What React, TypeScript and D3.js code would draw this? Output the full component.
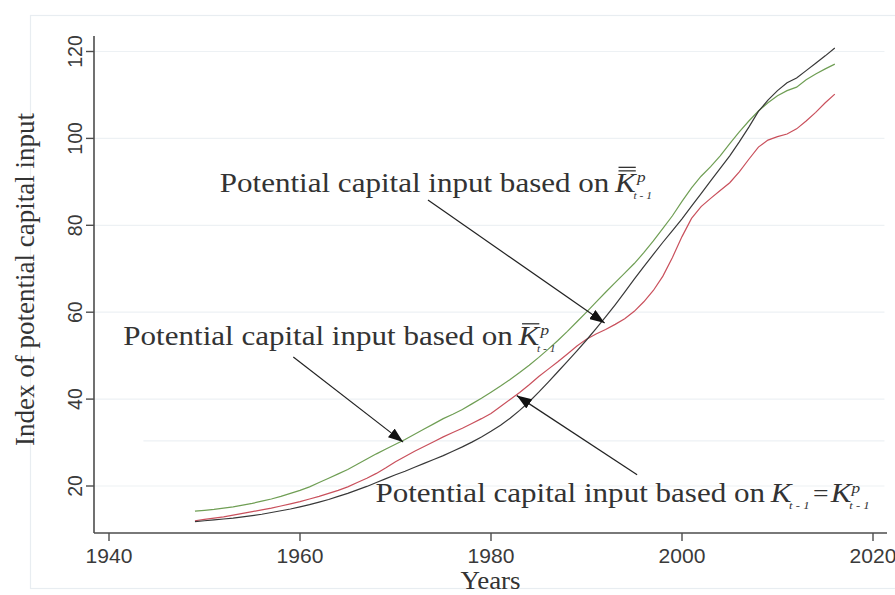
import React, { useRef, useEffect } from 'react';
import * as d3 from 'd3';

// Years covered by the three series
const YEARS = d3.range(1949, 2017);

// Potential capital input based on K_{t-1} = K^p_{t-1} (black)
const SERIES_BLACK = [
  11.8, 12.0, 12.2, 12.4, 12.6, 12.9, 13.2, 13.5, 13.9, 14.3, 14.7,
  15.2, 15.7, 16.3, 16.9, 17.6, 18.3, 19.1, 19.9, 20.8, 21.7,
  22.6, 23.4, 24.3, 25.2, 26.1, 27.0, 28.0, 29.0, 30.1, 31.3,
  32.6, 34.0, 35.6, 37.4, 39.4, 41.6, 43.9, 46.3, 48.7, 51.1,
  53.6, 56.2, 58.9, 61.7, 64.6, 67.6, 70.5, 73.3, 76.1, 78.8,
  81.5, 84.4, 87.3, 90.2, 93.1, 96.0, 99.2, 102.6, 106.2, 108.8,
  111.0, 112.8, 113.9, 115.6, 117.3, 119.0, 120.8
];

// Red series
const SERIES_RED = [
  12.0, 12.3, 12.6, 12.9, 13.3, 13.7, 14.1, 14.5, 14.9, 15.4, 15.9,
  16.4, 17.0, 17.6, 18.3, 19.0, 19.8, 20.8, 21.8, 22.9, 24.2,
  25.6, 26.8, 28.0, 29.1, 30.2, 31.3, 32.3, 33.3, 34.4, 35.5,
  36.7, 38.3, 39.9, 41.5, 43.3, 45.2, 46.9, 48.6, 50.4, 52.2,
  53.8, 55.0, 56.0, 57.2, 58.5, 60.2, 62.4, 65.0, 68.3, 72.6,
  77.4, 81.6, 84.3, 86.2, 88.0, 89.8, 92.3, 95.2, 98.0, 99.6,
  100.4, 101.0, 102.2, 104.0, 106.0, 108.2, 110.2
];

// Green series
const SERIES_GREEN = [
  14.2, 14.4, 14.6, 14.9, 15.2, 15.6, 16.0, 16.5, 17.0, 17.6, 18.3,
  19.0, 19.8, 20.8, 21.8, 22.8, 23.8, 25.0, 26.2, 27.4, 28.5,
  29.6, 30.7, 31.9, 33.1, 34.3, 35.5, 36.5, 37.6, 38.9, 40.2,
  41.6, 43.0, 44.5, 46.1, 47.8, 49.6, 51.5, 53.5, 55.6, 57.8,
  60.0, 62.3, 64.6, 66.8, 69.0, 71.2, 73.7, 76.4, 79.3, 82.2,
  85.5, 88.6, 91.3, 93.5, 96.0, 98.8, 101.5, 104.0, 106.3, 108.2,
  109.8, 111.0, 111.8, 113.5, 114.8, 116.0, 117.1
];

const X_TICKS = [1940, 1960, 1980, 2000, 2020];
const Y_TICKS = [20, 40, 60, 80, 100, 120];
const EXTRA_GRID = { value: 30.4, from: 1943.6 };

const PREFIX = 'Potential capital input based on';

// annotation anchors (year, value) and arrows [from, to]
const LABEL_POS = {
  top: [1951.6, 87.7],
  mid: [1941.5, 52.5],
  bot: [1967.9, 16.3]
};
const ARROWS = [
  [[1973.4, 85.8], [1991.9, 57.5]],
  [[1959.3, 49.7], [1970.8, 30.1]],
  [[1995.3, 22.6], [1982.7, 40.8]]
];

const SERIF = '"Liberation Serif", "Times New Roman", serif';
const SANS = '"Liberation Sans", Arial, sans-serif';

const App: React.FC = () => {
  const ref = useRef<SVGSVGElement>(null);

  useEffect(() => {
    if (!ref.current) return;
    const svg = d3.select(ref.current);
    svg.selectAll('*').remove();

    const x = d3.scaleLinear().domain([1940, 2020]).range([109, 873]);
    const y = d3.scaleLinear().domain([20, 120]).range([486, 51.5]);
    const xMin = x.invert(94), xMax = x.invert(887);
    const yMin = y.invert(533), yMax = y.invert(36);

    // faint outer frame
    svg.append('rect')
      .attr('x', 30.5).attr('y', 15.5)
      .attr('width', 880).attr('height', 573)
      .attr('fill', 'none').attr('stroke', '#e8edf1').attr('stroke-width', 1.2);

    // grid
    svg.append('g').selectAll('line').data(Y_TICKS).join('line')
      .attr('x1', x(xMin)).attr('x2', x(2021.2))
      .attr('y1', d => y(d)).attr('y2', d => y(d))
      .attr('stroke', '#edf1f4').attr('stroke-width', 1.2);
    svg.append('line')
      .attr('x1', x(EXTRA_GRID.from)).attr('x2', x(2021.2))
      .attr('y1', y(EXTRA_GRID.value)).attr('y2', y(EXTRA_GRID.value))
      .attr('stroke', '#edf1f4').attr('stroke-width', 1.2);

    // axes
    const axisColor = '#4d4d4d';
    svg.append('line')
      .attr('x1', x(xMin)).attr('x2', x(xMin))
      .attr('y1', y(yMax)).attr('y2', y(yMin))
      .attr('stroke', axisColor).attr('stroke-width', 1.6);
    svg.append('line')
      .attr('x1', x(xMin)).attr('x2', x(xMax))
      .attr('y1', y(yMin)).attr('y2', y(yMin))
      .attr('stroke', axisColor).attr('stroke-width', 1.6);

    Y_TICKS.forEach(t => {
      svg.append('line')
        .attr('x1', x(xMin) - 8).attr('x2', x(xMin))
        .attr('y1', y(t)).attr('y2', y(t))
        .attr('stroke', axisColor).attr('stroke-width', 1.4);
      svg.append('text')
        .attr('transform', `translate(${x(xMin) - 12},${y(t)}) rotate(-90)`)
        .attr('text-anchor', 'middle')
        .attr('font-family', SANS).attr('font-size', 19.5)
        .attr('fill', '#3a3a3a')
        .text(t);
    });

    X_TICKS.forEach(t => {
      svg.append('line')
        .attr('x1', x(t)).attr('x2', x(t))
        .attr('y1', y(yMin)).attr('y2', y(yMin) + 8)
        .attr('stroke', axisColor).attr('stroke-width', 1.4);
      svg.append('text')
        .attr('transform', `translate(${x(t)},${y(yMin) + 30}) scale(1.08,1)`)
        .attr('text-anchor', 'middle')
        .attr('font-family', SANS).attr('font-size', 19.5)
        .attr('fill', '#3a3a3a')
        .text(t);
    });

    // axis titles
    svg.append('text')
      .attr('transform', `translate(34,${(y(yMin) + y(yMax)) / 2 - 5}) rotate(-90)`)
      .attr('text-anchor', 'middle')
      .attr('font-family', SERIF).attr('font-size', 27)
      .attr('fill', '#333')
      .text('Index of potential capital input');
    svg.append('text')
      .attr('transform', `translate(${(x(xMin) + x(xMax)) / 2},589) scale(1.08,1)`)
      .attr('text-anchor', 'middle')
      .attr('font-family', SERIF).attr('font-size', 25)
      .attr('fill', '#333')
      .text('Years');

    // series
    const line = d3.line<number>()
      .x((d, i) => x(YEARS[i]))
      .y(d => y(d));
    const series: [number[], string][] = [
      [SERIES_GREEN, '#6f9e54'],
      [SERIES_RED, '#c9505c'],
      [SERIES_BLACK, '#383838']
    ];
    series.forEach(([vals, color]) => {
      svg.append('path')
        .datum(vals)
        .attr('fill', 'none')
        .attr('stroke', color)
        .attr('stroke-width', 1.2)
        .attr('d', line);
    });

    // arrows
    const defs = svg.append('defs');
    defs.append('marker')
      .attr('id', 'arrowhead')
      .attr('markerUnits', 'userSpaceOnUse')
      .attr('markerWidth', 15).attr('markerHeight', 11)
      .attr('refX', 15).attr('refY', 5.5)
      .attr('orient', 'auto')
      .append('path')
      .attr('d', 'M0,0 L15,5.5 L0,11 Z')
      .attr('fill', '#111');
    ARROWS.forEach(([from, to]) => {
      svg.append('line')
        .attr('x1', x(from[0])).attr('y1', y(from[1]))
        .attr('x2', x(to[0])).attr('y2', y(to[1]))
        .attr('stroke', '#222').attr('stroke-width', 1.2)
        .attr('marker-end', 'url(#arrowhead)');
    });

    // labels with math
    const SX = 1.15;
    const makeLabel = (pos: number[]) => {
      const g = svg.append('g')
        .attr('transform', `translate(${x(pos[0])},${y(pos[1])}) scale(${SX},1)`)
        .attr('font-family', SERIF).attr('fill', '#333');
      const t = g.append('text').attr('font-size', 27).text(PREFIX);
      const w = (t.node() as SVGTextElement).getComputedTextLength();
      return { g, cx: w + 5 };
    };
    const addText = (g: any, txt: string, cx: number, dy: number, size: number, italic = true) => {
      const t = g.append('text')
        .attr('x', cx).attr('y', dy)
        .attr('font-size', size)
        .attr('font-style', italic ? 'italic' : 'normal')
        .text(txt);
      return (t.node() as SVGTextElement).getComputedTextLength();
    };
    const addBar = (g: any, x1: number, x2: number, dy: number) => {
      g.append('line')
        .attr('x1', x1).attr('x2', x2).attr('y1', dy).attr('y2', dy)
        .attr('stroke', '#333').attr('stroke-width', 1.3);
    };

    // top: double-bar K
    {
      const { g, cx } = makeLabel(LABEL_POS.top);
      const wK = addText(g, 'K', cx, 0, 27);
      addBar(g, cx + 3, cx + wK, -21);
      addBar(g, cx + 3, cx + wK, -24.5);
      addText(g, 'p', cx + wK + 1, -10, 15);
      addText(g, 't - 1', cx + wK - 2, 7, 10);
    }
    // middle: single-bar K
    {
      const { g, cx } = makeLabel(LABEL_POS.mid);
      const wK = addText(g, 'K', cx, 0, 27);
      addBar(g, cx + 3, cx + wK, -21);
      addText(g, 'p', cx + wK + 1, -10, 15);
      addText(g, 't - 1', cx + wK - 2, 7, 10);
    }
    // bottom: K_{t-1} = K^p_{t-1}
    {
      const { g, cx } = makeLabel(LABEL_POS.bot);
      let c = cx;
      const wK = addText(g, 'K', c, 0, 27);
      c += wK - 2;
      const wSub = addText(g, 't - 1', c, 7, 11);
      c += wSub + 3;
      const wEq = addText(g, '=', c, -1, 24, false);
      c += wEq + 2;
      const wK2 = addText(g, 'K', c, 0, 27);
      c += wK2 - 2;
      addText(g, 'p', c + 2, -9, 15);
      addText(g, 't - 1', c, 7, 11);
    }
  }, []);

  return (
    <div style={{ position: 'absolute', left: 0, top: 0, background: '#fff' }}>
      <svg ref={ref} width={895} height={595} style={{ display: 'block' }} />
    </div>
  );
};

export default App;
